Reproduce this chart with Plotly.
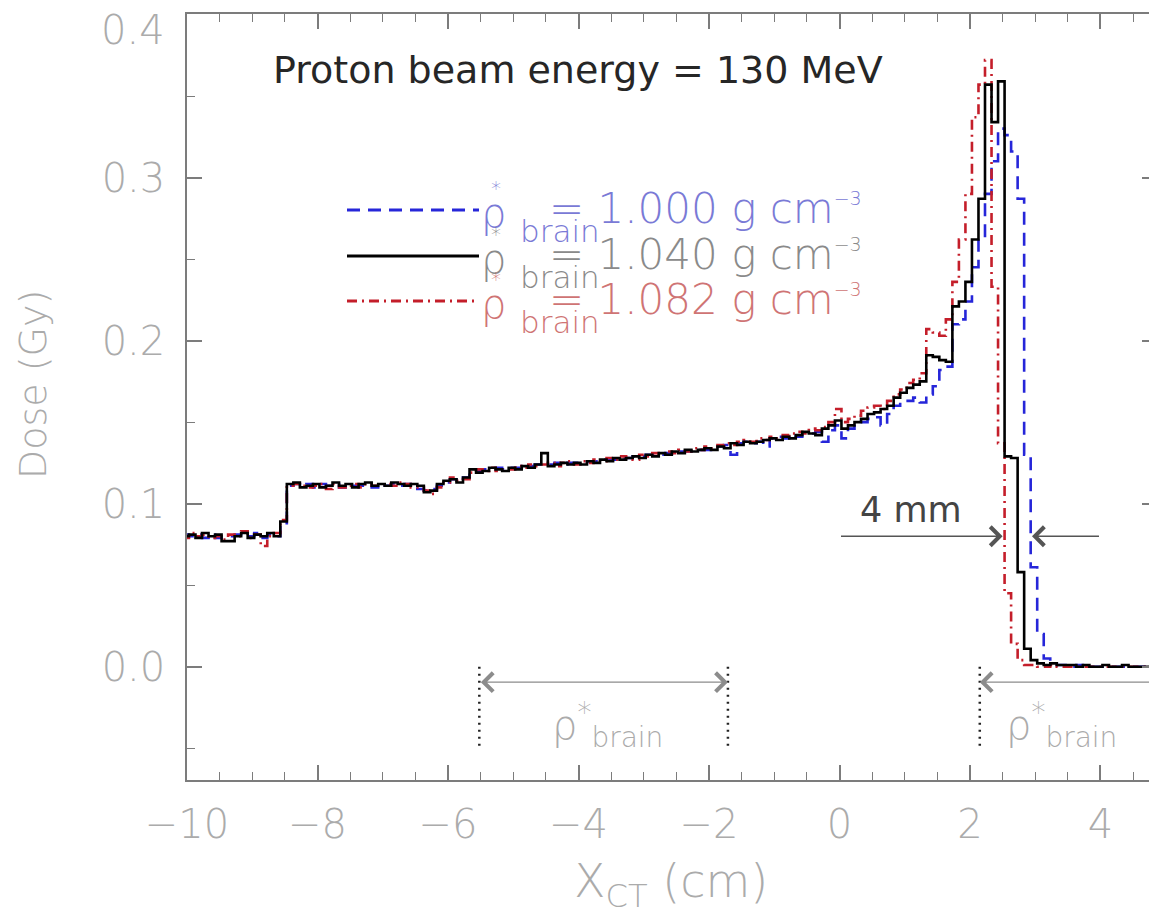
import numpy as np
import plotly.graph_objects as go

# ---------------- data ----------------
BIN_START = -10.07   # left edge of first histogram bin (cm)
BIN_WIDTH = 0.1      # cm

densities = ["1.000", "1.040", "1.082"]

dose_1000 = [
    0.081, 0.080, 0.081, 0.079, 0.081, 0.079, 0.080, 0.080, 0.081, 0.080,
    0.080, 0.082, 0.079, 0.081, 0.080, 0.088, 0.111, 0.112, 0.111, 0.112,
    0.110, 0.112, 0.111, 0.112, 0.110, 0.112, 0.111, 0.111, 0.112, 0.110,
    0.112, 0.111, 0.112, 0.111, 0.112, 0.111, 0.109, 0.108, 0.109, 0.111,
    0.113, 0.115, 0.114, 0.116, 0.120, 0.120, 0.121, 0.121, 0.122, 0.121,
    0.122, 0.122, 0.123, 0.123, 0.124, 0.124, 0.124, 0.125, 0.124, 0.125,
    0.125, 0.125, 0.126, 0.126, 0.127, 0.127, 0.127, 0.128, 0.128, 0.129,
    0.129, 0.130, 0.130, 0.130, 0.131, 0.131, 0.132, 0.132, 0.133, 0.133,
    0.133, 0.134, 0.135, 0.136, 0.130, 0.137, 0.138, 0.137, 0.138, 0.135,
    0.140, 0.141, 0.140, 0.142, 0.141, 0.143, 0.143, 0.144, 0.138, 0.145,
    0.148, 0.140, 0.146, 0.149, 0.150, 0.152, 0.153, 0.148, 0.155, 0.160,
    0.163, 0.163, 0.165, 0.162, 0.167, 0.172, 0.182, 0.184, 0.210, 0.213,
    0.224, 0.245, 0.262, 0.290, 0.310, 0.330, 0.326, 0.316, 0.287, 0.130,
    0.061, 0.020, 0.005, 0.002, 0.001, 0.001, 0.000, 0.001, 0.000, 0.000,
    0.000, 0.000, 0.000, 0.000, 0.000, 0.000, 0.000, 0.000, 0.000, 0.000,
]

dose_1040 = [
    0.080, 0.081, 0.079, 0.082, 0.080, 0.081, 0.077, 0.077, 0.080, 0.082,
    0.079, 0.081, 0.080, 0.082, 0.080, 0.089, 0.112, 0.113, 0.110, 0.111,
    0.112, 0.110, 0.111, 0.113, 0.111, 0.112, 0.110, 0.112, 0.113, 0.111,
    0.112, 0.111, 0.113, 0.112, 0.111, 0.112, 0.111, 0.107, 0.108, 0.112,
    0.114, 0.115, 0.113, 0.116, 0.121, 0.119, 0.120, 0.122, 0.121, 0.120,
    0.122, 0.121, 0.123, 0.122, 0.124, 0.131, 0.123, 0.124, 0.125, 0.124,
    0.125, 0.124, 0.126, 0.125, 0.127, 0.126, 0.128, 0.127, 0.128, 0.129,
    0.128, 0.130, 0.129, 0.131, 0.130, 0.132, 0.131, 0.133, 0.132, 0.133,
    0.134, 0.133, 0.135, 0.134, 0.137, 0.136, 0.138, 0.137, 0.138, 0.139,
    0.140, 0.139, 0.141, 0.140, 0.142, 0.144, 0.143, 0.142, 0.146, 0.148,
    0.151, 0.146, 0.148, 0.150, 0.152, 0.155, 0.156, 0.158, 0.160, 0.165,
    0.168, 0.171, 0.173, 0.175, 0.191, 0.190, 0.188, 0.187, 0.221, 0.224,
    0.236, 0.262, 0.287, 0.357, 0.334, 0.359, 0.129, 0.128, 0.058, 0.011,
    0.004, 0.002, 0.001, 0.002, 0.001, 0.001, 0.001, 0.000, 0.001, 0.000,
    0.000, 0.001, 0.000, 0.000, 0.001, 0.000, 0.000, 0.000, 0.000, 0.000,
]

dose_1082 = [
    0.079, 0.082, 0.080, 0.081, 0.079, 0.080, 0.078, 0.081, 0.080, 0.083,
    0.079, 0.081, 0.074, 0.080, 0.082, 0.090, 0.111, 0.112, 0.111, 0.110,
    0.111, 0.112, 0.109, 0.112, 0.110, 0.111, 0.112, 0.110, 0.112, 0.111,
    0.111, 0.112, 0.111, 0.113, 0.112, 0.110, 0.110, 0.108, 0.106, 0.110,
    0.113, 0.116, 0.114, 0.115, 0.119, 0.121, 0.120, 0.122, 0.120, 0.121,
    0.121, 0.123, 0.122, 0.124, 0.123, 0.124, 0.125, 0.123, 0.125, 0.126,
    0.124, 0.126, 0.125, 0.127, 0.126, 0.128, 0.127, 0.129, 0.128, 0.127,
    0.130, 0.129, 0.131, 0.130, 0.132, 0.131, 0.133, 0.132, 0.134, 0.133,
    0.135, 0.134, 0.136, 0.137, 0.136, 0.138, 0.139, 0.138, 0.140, 0.139,
    0.141, 0.140, 0.142, 0.143, 0.144, 0.143, 0.146, 0.145, 0.147, 0.150,
    0.158, 0.150, 0.152, 0.154, 0.157, 0.159, 0.160, 0.158, 0.163, 0.167,
    0.170, 0.174, 0.176, 0.180, 0.207, 0.205, 0.203, 0.213, 0.236, 0.262,
    0.290, 0.337, 0.357, 0.372, 0.233, 0.137, 0.045, 0.014, 0.004, 0.001,
    0.001, 0.000, 0.000, 0.001, 0.000, 0.000, 0.000, 0.000, 0.000, 0.000,
    0.000, 0.000, 0.000, 0.000, 0.000, 0.000, 0.000, 0.000, 0.000, 0.000,
]

x_tick_values = [-10, -8, -6, -4, -2, 0, 2, 4]
y_tick_values = [0.0, 0.1, 0.2, 0.3, 0.4]
# the top label (0.4) sits against the page edge, so it is drawn as text below
y_tick_labels = ["0.0", "0.1", "0.2", "0.3", ""]
y_top_label = "0.4"

# brain regions marked below the curves (cm)
brain_region_left = [-5.52, -1.71]
brain_region_right_start = 2.15

# ---------------- styles ----------------
colors = {"1.000": "#2626d9", "1.040": "#000000", "1.082": "#c41e2a"}
dashes = {"1.000": "13px,8px", "1.040": "solid", "1.082": "10px,5px,2px,5px"}
text_colors = {"1.000": "#7a7ad6", "1.040": "#8a8a8a", "1.082": "#cf7474"}
series = {"1.000": dose_1000, "1.040": dose_1040, "1.082": dose_1082}

FONT = "DejaVu Sans"
AX_GRAY = "#7c7c7c"
LBL_GRAY = "#ababab"

n_bins = len(dose_1040)
edges = BIN_START + BIN_WIDTH * np.arange(n_bins + 1)

fig = go.Figure()
for key in ["1.000", "1.082", "1.040"]:
    vals = series[key]
    fig.add_trace(go.Scatter(
        x=edges,
        y=list(vals) + [vals[-1]],
        mode="lines",
        line=dict(shape="hv", color=colors[key], width=2.6, dash=dashes[key]),
        showlegend=False,
        hoverinfo="skip",
    ))

X_MIN, X_MAX = -10.0, 4.866
Y_MIN, Y_MAX = -0.0695, 0.4003

# page body has an 8 px margin: figure is sized/margined to compensate
fig.update_layout(
    width=1149, height=913,
    margin=dict(l=179, r=0, t=6, b=141, autoexpand=False),
    paper_bgcolor="white", plot_bgcolor="white",
    showlegend=False,
    xaxis=dict(
        range=[X_MIN, X_MAX], tickvals=x_tick_values, automargin=False,
        ticks="inside", ticklen=15, tickwidth=1.5, tickcolor=AX_GRAY,
        showline=True, linecolor=AX_GRAY, linewidth=1.5, mirror="ticks",
        showgrid=False, zeroline=False,
        minor=dict(ticks="inside", ticklen=8, dtick=0.5, tick0=0,
                   tickcolor=AX_GRAY, tickwidth=1.2, showgrid=False),
        tickfont=dict(family=FONT, size=40, color=LBL_GRAY, weight=200),
        ticklabelstandoff=8,
    ),
    yaxis=dict(
        range=[Y_MIN, Y_MAX], tickvals=y_tick_values, ticktext=y_tick_labels,
        automargin=False,
        ticks="inside", ticklen=15, tickwidth=1.5, tickcolor=AX_GRAY,
        showline=True, linecolor=AX_GRAY, linewidth=1.5, mirror="ticks",
        showgrid=False, zeroline=False,
        minor=dict(ticks="inside", ticklen=8, dtick=0.05, tick0=0,
                   tickcolor=AX_GRAY, tickwidth=1.2, showgrid=False),
        tickfont=dict(family=FONT, size=40, color=LBL_GRAY, weight=200),
        ticklabelstandoff=12,
    ),
)

annotations = []
shapes = []


def px_x(p):   # page pixel -> paper x (plot spans 187..1157)
    return (p - 187) / 970.0


def px_y(p):   # page pixel -> paper y (plot spans 14..780)
    return (780 - p) / 766.0


# top y tick label
annotations.append(dict(
    text=y_top_label, xref="paper", yref="paper", x=px_x(167), y=px_y(30),
    xanchor="right", yanchor="middle", showarrow=False,
    font=dict(family=FONT, size=40, color=LBL_GRAY, weight=200)))

# axis titles
annotations.append(dict(
    text="Dose (Gy)", xref="paper", yref="paper", x=px_x(33), y=px_y(385),
    xanchor="center", yanchor="middle", textangle=-90, showarrow=False,
    font=dict(family=FONT, size=38, color=LBL_GRAY, weight=200)))
annotations.append(dict(
    text="X<sub>CT</sub> (cm)", xref="paper", yref="paper", x=px_x(671),
    y=px_y(884), xanchor="center", yanchor="middle", showarrow=False,
    font=dict(family=FONT, size=46, color=LBL_GRAY, weight=200)))

# title inside the plot
annotations.append(dict(
    text="Proton beam energy = 130 MeV", xref="paper", yref="paper",
    x=px_x(271), y=px_y(70), xanchor="left", yanchor="middle",
    showarrow=False, font=dict(family=FONT, size=38, color="#262626")))

# legend (line samples + labels)
legend_rows_py = {"1.000": 210, "1.040": 256, "1.082": 301}
for key in densities:
    py = legend_rows_py[key]
    tc = text_colors[key]
    shapes.append(dict(type="line", xref="paper", yref="paper",
                       x0=px_x(347), x1=px_x(479), y0=px_y(py), y1=px_y(py),
                       line=dict(color=colors[key], width=2.8,
                                 dash=dashes[key])))
    annotations.append(dict(
        text="ρ", xref="paper", yref="paper", x=px_x(479), y=px_y(py + 3),
        xanchor="left", yanchor="middle", showarrow=False,
        font=dict(family=FONT, size=40, color=tc, weight=200)))
    annotations.append(dict(
        text="*", xref="paper", yref="paper", x=px_x(489), y=px_y(py - 22),
        xanchor="left", yanchor="middle", showarrow=False,
        font=dict(family=FONT, size=20, color=tc, weight=200)))
    annotations.append(dict(
        text="brain", xref="paper", yref="paper", x=px_x(518),
        y=px_y(py + 21), xanchor="left", yanchor="middle", showarrow=False,
        font=dict(family=FONT, size=31, color=tc, weight=200)))
    annotations.append(dict(
        text="= " + key + " g cm<sup><span style='font-size:19px'>−3</span></sup>",
        xref="paper", yref="paper", x=px_x(547), y=px_y(py - 2),
        xanchor="left", yanchor="middle", showarrow=False,
        font=dict(family=FONT, size=42, color=tc, weight=200)))

# 4 mm range-difference marker
annotations.append(dict(
    text="4 mm", x=1.1, y=0.096, xref="x", yref="y", showarrow=False,
    xanchor="center", yanchor="middle",
    font=dict(family=FONT, size=35, color="#444444")))
annotations.append(dict(
    text="", x=2.50, y=0.080, ax=0.0, ay=0.080, xref="x", yref="y",
    axref="x", ayref="y", showarrow=True, arrowhead=4, arrowsize=2.6,
    arrowwidth=1.4, arrowcolor="#555555"))
annotations.append(dict(
    text="", x=2.95, y=0.080, ax=4.0, ay=0.080, xref="x", yref="y",
    axref="x", ayref="y", showarrow=True, arrowhead=4, arrowsize=2.6,
    arrowwidth=1.4, arrowcolor="#555555"))

# brain-region markers
for xv in brain_region_left + [brain_region_right_start]:
    shapes.append(dict(type="line", xref="x", yref="y", x0=xv, x1=xv,
                       y0=0.0, y1=-0.05,
                       line=dict(color="#222222", width=2.5, dash="2px,5px")))
annotations.append(dict(
    text="", x=brain_region_left[1], y=-0.0095, ax=brain_region_left[0],
    ay=-0.0095, xref="x", yref="y", axref="x", ayref="y", showarrow=True,
    arrowhead=4, startarrowhead=4, arrowside="end+start", arrowsize=2.6,
    startarrowsize=2.6, arrowwidth=1.4, arrowcolor="#8c8c8c"))
annotations.append(dict(
    text="", x=brain_region_right_start, y=-0.0095, ax=X_MAX + 0.3,
    ay=-0.0095, xref="x", yref="y", axref="x", ayref="y", showarrow=True,
    arrowhead=4, arrowsize=2.6, arrowwidth=1.4, arrowcolor="#8c8c8c"))
brain_label = "ρ<sup>*</sup><sub>brain</sub>"
annotations.append(dict(
    text=brain_label, x=-3.55, y=-0.036, xref="x", yref="y",
    showarrow=False, xanchor="center", yanchor="middle",
    font=dict(family=FONT, size=40, color=LBL_GRAY, weight=200)))
annotations.append(dict(
    text=brain_label, x=2.52, y=-0.036, xref="x", yref="y",
    showarrow=False, xanchor="left", yanchor="middle",
    font=dict(family=FONT, size=40, color=LBL_GRAY, weight=200)))

fig.update_layout(annotations=annotations, shapes=shapes)
fig.write_html("out.html")
